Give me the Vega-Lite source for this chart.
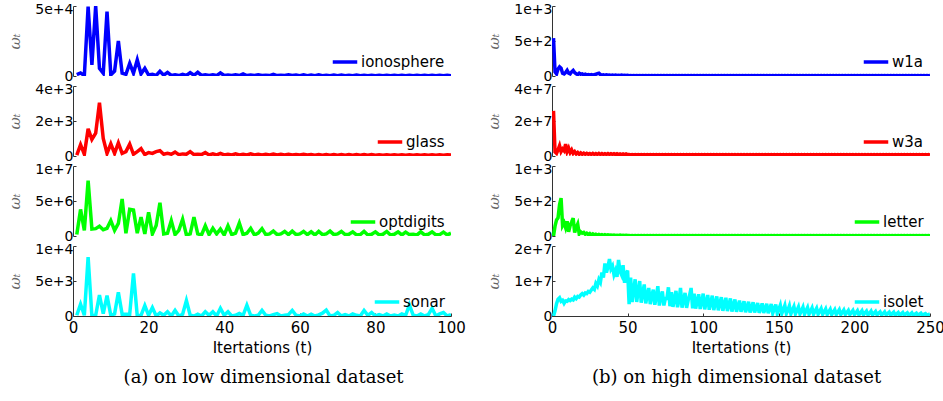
{
"$schema": "https://vega.github.io/schema/vega-lite/v6.json",
"padding": {"left": 7, "top": 2, "right": 5, "bottom": 5},
"config": {
  "view": {"stroke": null},
  "axis": {"domainColor": "#333", "tickColor": "#333", "tickSize": -3, "labelFont": "DejaVu Sans", "labelFontSize": 14, "labelColor": "#000", "labelPadding": 3, "labelOverlap": false, "labelFlush": false, "grid": false, "titleFont": "DejaVu Sans", "titleFontWeight": "normal", "titleColor": "#000"},
  "axisY": {"titleFont": "DejaVu Serif", "titleFontStyle": "italic", "titleFontSize": 15, "titleColor": "#666", "titlePadding": 12},
  "axisX": {"titleFontSize": 15, "labelFontSize": 15, "labelPadding": 7, "titlePadding": 5},
  "legend": {"orient": "bottom-right", "offset": 6, "padding": 0, "symbolType": "stroke", "symbolStrokeWidth": 3.5, "symbolSize": 600, "labelFont": "DejaVu Sans", "labelFontSize": 15, "labelColor": "#000", "labelOffset": 2}
},
"datasets": {
"low": [
{"t":1,"ionosphere":1000,"glass":50,"optdigits":200000,"sonar":100},
{"t":2,"ionosphere":2200,"glass":650,"optdigits":3800000,"sonar":1700},
{"t":3,"ionosphere":300,"glass":100,"optdigits":800000,"sonar":100},
{"t":4,"ionosphere":49500,"glass":1550,"optdigits":7900000,"sonar":8400},
{"t":5,"ionosphere":8000,"glass":950,"optdigits":1000000,"sonar":0},
{"t":6,"ionosphere":50000,"glass":1300,"optdigits":1050000,"sonar":100},
{"t":7,"ionosphere":5500,"glass":3050,"optdigits":1400000,"sonar":3000},
{"t":8,"ionosphere":2000,"glass":1000,"optdigits":900000,"sonar":350},
{"t":9,"ionosphere":46000,"glass":150,"optdigits":1100000,"sonar":2900},
{"t":10,"ionosphere":800,"glass":700,"optdigits":2200000,"sonar":100},
{"t":11,"ionosphere":3500,"glass":150,"optdigits":800000,"sonar":300},
{"t":12,"ionosphere":25000,"glass":750,"optdigits":1800000,"sonar":3400},
{"t":13,"ionosphere":2000,"glass":150,"optdigits":5300000,"sonar":250},
{"t":14,"ionosphere":1200,"glass":250,"optdigits":400000,"sonar":250},
{"t":15,"ionosphere":9000,"glass":680,"optdigits":3800000,"sonar":250},
{"t":16,"ionosphere":2000,"glass":100,"optdigits":3700000,"sonar":6100},
{"t":17,"ionosphere":11500,"glass":250,"optdigits":400000,"sonar":0},
{"t":18,"ionosphere":1500,"glass":420,"optdigits":2700000,"sonar":100},
{"t":19,"ionosphere":5500,"glass":80,"optdigits":300000,"sonar":1500},
{"t":20,"ionosphere":700,"glass":200,"optdigits":3400000,"sonar":100},
{"t":21,"ionosphere":1200,"glass":150,"optdigits":300000,"sonar":1200},
{"t":22,"ionosphere":400,"glass":250,"optdigits":1500000,"sonar":0},
{"t":23,"ionosphere":3300,"glass":300,"optdigits":4750000,"sonar":450},
{"t":24,"ionosphere":600,"glass":100,"optdigits":300000,"sonar":100},
{"t":25,"ionosphere":2600,"glass":150,"optdigits":400000,"sonar":600},
{"t":26,"ionosphere":400,"glass":100,"optdigits":2200000,"sonar":0},
{"t":27,"ionosphere":800,"glass":220,"optdigits":200000,"sonar":800},
{"t":28,"ionosphere":300,"glass":80,"optdigits":800000,"sonar":0},
{"t":29,"ionosphere":1200,"glass":120,"optdigits":2400000,"sonar":250},
{"t":30,"ionosphere":400,"glass":100,"optdigits":150000,"sonar":2200},
{"t":31,"ionosphere":2400,"glass":250,"optdigits":300000,"sonar":100},
{"t":32,"ionosphere":500,"glass":80,"optdigits":2700000,"sonar":0},
{"t":33,"ionosphere":2600,"glass":100,"optdigits":300000,"sonar":250},
{"t":34,"ionosphere":400,"glass":80,"optdigits":150000,"sonar":0},
{"t":35,"ionosphere":900,"glass":200,"optdigits":1450000,"sonar":600},
{"t":36,"ionosphere":300,"glass":60,"optdigits":200000,"sonar":100},
{"t":37,"ionosphere":800,"glass":120,"optdigits":1100000,"sonar":600},
{"t":38,"ionosphere":300,"glass":60,"optdigits":300000,"sonar":0},
{"t":39,"ionosphere":2200,"glass":150,"optdigits":1000000,"sonar":1100},
{"t":40,"ionosphere":400,"glass":60,"optdigits":150000,"sonar":100},
{"t":41,"ionosphere":700,"glass":100,"optdigits":1450000,"sonar":600},
{"t":42,"ionosphere":300,"glass":60,"optdigits":200000,"sonar":0},
{"t":43,"ionosphere":900,"glass":120,"optdigits":400000,"sonar":100},
{"t":44,"ionosphere":300,"glass":60,"optdigits":1850000,"sonar":350},
{"t":45,"ionosphere":1500,"glass":100,"optdigits":200000,"sonar":100},
{"t":46,"ionosphere":300,"glass":60,"optdigits":400000,"sonar":1550},
{"t":47,"ionosphere":700,"glass":120,"optdigits":1100000,"sonar":100},
{"t":48,"ionosphere":300,"glass":60,"optdigits":150000,"sonar":0},
{"t":49,"ionosphere":900,"glass":100,"optdigits":400000,"sonar":100},
{"t":50,"ionosphere":300,"glass":60,"optdigits":1050000,"sonar":800},
{"t":51,"ionosphere":600,"glass":100,"optdigits":200000,"sonar":100},
{"t":52,"ionosphere":300,"glass":60,"optdigits":300000,"sonar":0},
{"t":53,"ionosphere":1200,"glass":110,"optdigits":700000,"sonar":200},
{"t":54,"ionosphere":300,"glass":60,"optdigits":200000,"sonar":350},
{"t":55,"ionosphere":600,"glass":100,"optdigits":300000,"sonar":0},
{"t":56,"ionosphere":300,"glass":60,"optdigits":650000,"sonar":100},
{"t":57,"ionosphere":800,"glass":100,"optdigits":200000,"sonar":200},
{"t":58,"ionosphere":300,"glass":60,"optdigits":700000,"sonar":800},
{"t":59,"ionosphere":700,"glass":90,"optdigits":200000,"sonar":100},
{"t":60,"ionosphere":250,"glass":60,"optdigits":300000,"sonar":0},
{"t":61,"ionosphere":800,"glass":100,"optdigits":650000,"sonar":300},
{"t":62,"ionosphere":250,"glass":60,"optdigits":200000,"sonar":0},
{"t":63,"ionosphere":700,"glass":90,"optdigits":600000,"sonar":250},
{"t":64,"ionosphere":250,"glass":50,"optdigits":150000,"sonar":0},
{"t":65,"ionosphere":800,"glass":90,"optdigits":650000,"sonar":150},
{"t":66,"ionosphere":250,"glass":50,"optdigits":200000,"sonar":400},
{"t":67,"ionosphere":600,"glass":90,"optdigits":300000,"sonar":850},
{"t":68,"ionosphere":250,"glass":50,"optdigits":700000,"sonar":0},
{"t":69,"ionosphere":700,"glass":80,"optdigits":200000,"sonar":100},
{"t":70,"ionosphere":250,"glass":50,"optdigits":300000,"sonar":500},
{"t":71,"ionosphere":700,"glass":80,"optdigits":650000,"sonar":0},
{"t":72,"ionosphere":250,"glass":50,"optdigits":200000,"sonar":200},
{"t":73,"ionosphere":600,"glass":80,"optdigits":250000,"sonar":0},
{"t":74,"ionosphere":250,"glass":50,"optdigits":600000,"sonar":300},
{"t":75,"ionosphere":700,"glass":80,"optdigits":150000,"sonar":100},
{"t":76,"ionosphere":250,"glass":50,"optdigits":200000,"sonar":0},
{"t":77,"ionosphere":600,"glass":80,"optdigits":650000,"sonar":800},
{"t":78,"ionosphere":250,"glass":50,"optdigits":150000,"sonar":100},
{"t":79,"ionosphere":600,"glass":80,"optdigits":250000,"sonar":500},
{"t":80,"ionosphere":250,"glass":50,"optdigits":600000,"sonar":0},
{"t":81,"ionosphere":600,"glass":70,"optdigits":150000,"sonar":200},
{"t":82,"ionosphere":200,"glass":50,"optdigits":250000,"sonar":0},
{"t":83,"ionosphere":600,"glass":70,"optdigits":650000,"sonar":300},
{"t":84,"ionosphere":200,"glass":50,"optdigits":150000,"sonar":0},
{"t":85,"ionosphere":600,"glass":70,"optdigits":250000,"sonar":150},
{"t":86,"ionosphere":200,"glass":50,"optdigits":600000,"sonar":0},
{"t":87,"ionosphere":600,"glass":70,"optdigits":150000,"sonar":300},
{"t":88,"ionosphere":200,"glass":50,"optdigits":550000,"sonar":100},
{"t":89,"ionosphere":500,"glass":70,"optdigits":200000,"sonar":1600},
{"t":90,"ionosphere":200,"glass":50,"optdigits":250000,"sonar":100},
{"t":91,"ionosphere":500,"glass":70,"optdigits":150000,"sonar":0},
{"t":92,"ionosphere":200,"glass":50,"optdigits":600000,"sonar":300},
{"t":93,"ionosphere":500,"glass":70,"optdigits":150000,"sonar":0},
{"t":94,"ionosphere":200,"glass":50,"optdigits":250000,"sonar":200},
{"t":95,"ionosphere":500,"glass":70,"optdigits":600000,"sonar":1100},
{"t":96,"ionosphere":200,"glass":50,"optdigits":150000,"sonar":0},
{"t":97,"ionosphere":500,"glass":70,"optdigits":200000,"sonar":300},
{"t":98,"ionosphere":200,"glass":50,"optdigits":550000,"sonar":500},
{"t":99,"ionosphere":500,"glass":70,"optdigits":150000,"sonar":0},
{"t":100,"ionosphere":200,"glass":50,"optdigits":400000,"sonar":200}
],
"high": [
{"t":1,"w1a":540,"w3a":25800000,"letter":0,"isolet":0},
{"t":2,"w1a":60,"w3a":2300000,"letter":140,"isolet":1500000},
{"t":3,"w1a":30,"w3a":1500000,"letter":230,"isolet":3500000},
{"t":4,"w1a":100,"w3a":3500000,"letter":260,"isolet":4800000},
{"t":5,"w1a":130,"w3a":5900000,"letter":450,"isolet":5200000},
{"t":6,"w1a":110,"w3a":2500000,"letter":540,"isolet":4200000},
{"t":7,"w1a":40,"w3a":4000000,"letter":150,"isolet":4500000},
{"t":8,"w1a":30,"w3a":3000000,"letter":190,"isolet":3600000},
{"t":9,"w1a":50,"w3a":6800000,"letter":120,"isolet":4300000},
{"t":10,"w1a":80,"w3a":2500000,"letter":210,"isolet":4200000},
{"t":11,"w1a":40,"w3a":4500000,"letter":60,"isolet":4700000},
{"t":12,"w1a":30,"w3a":2000000,"letter":150,"isolet":4400000},
{"t":13,"w1a":60,"w3a":3500000,"letter":200,"isolet":4800000},
{"t":14,"w1a":80,"w3a":1500000,"letter":255,"isolet":4600000},
{"t":15,"w1a":50,"w3a":2500000,"letter":50,"isolet":5400000},
{"t":16,"w1a":30,"w3a":1200000,"letter":120,"isolet":5000000},
{"t":17,"w1a":20,"w3a":2000000,"letter":170,"isolet":5600000},
{"t":18,"w1a":40,"w3a":1000000,"letter":30,"isolet":5400000},
{"t":19,"w1a":25,"w3a":1800000,"letter":60,"isolet":6000000},
{"t":20,"w1a":30,"w3a":1000000,"letter":40,"isolet":6400000},
{"t":21,"w1a":15,"w3a":1600000,"letter":50,"isolet":6000000},
{"t":22,"w1a":25,"w3a":1000000,"letter":25,"isolet":6600000},
{"t":23,"w1a":15,"w3a":1500000,"letter":40,"isolet":6400000},
{"t":24,"w1a":20,"w3a":1000000,"letter":20,"isolet":7000000},
{"t":25,"w1a":12,"w3a":1400000,"letter":35,"isolet":6800000},
{"t":26,"w1a":20,"w3a":900000,"letter":15,"isolet":7400000},
{"t":27,"w1a":12,"w3a":1500000,"letter":30,"isolet":8000000},
{"t":28,"w1a":20,"w3a":900000,"letter":15,"isolet":7600000},
{"t":29,"w1a":25,"w3a":1400000,"letter":25,"isolet":9300000},
{"t":30,"w1a":35,"w3a":900000,"letter":12,"isolet":8600000},
{"t":31,"w1a":40,"w3a":1500000,"letter":22,"isolet":10400000},
{"t":32,"w1a":20,"w3a":900000,"letter":12,"isolet":9600000},
{"t":33,"w1a":12,"w3a":1400000,"letter":20,"isolet":12400000},
{"t":34,"w1a":18,"w3a":900000,"letter":10,"isolet":11000000},
{"t":35,"w1a":10,"w3a":1300000,"letter":18,"isolet":15000000},
{"t":36,"w1a":16,"w3a":900000,"letter":10,"isolet":12400000},
{"t":37,"w1a":10,"w3a":1400000,"letter":16,"isolet":14000000},
{"t":38,"w1a":15,"w3a":900000,"letter":10,"isolet":16300000},
{"t":39,"w1a":9,"w3a":1300000,"letter":15,"isolet":13500000},
{"t":40,"w1a":14,"w3a":900000,"letter":8,"isolet":14300000},
{"t":41,"w1a":9,"w3a":1300000,"letter":14,"isolet":11800000},
{"t":42,"w1a":13,"w3a":800000,"letter":8,"isolet":13000000},
{"t":43,"w1a":8,"w3a":1300000,"letter":12,"isolet":11200000},
{"t":44,"w1a":12,"w3a":800000,"letter":8,"isolet":16000000},
{"t":45,"w1a":8,"w3a":1200000,"letter":12,"isolet":12800000},
{"t":46,"w1a":12,"w3a":800000,"letter":7,"isolet":11800000},
{"t":47,"w1a":7,"w3a":1200000,"letter":10,"isolet":14500000},
{"t":48,"w1a":11,"w3a":800000,"letter":7,"isolet":9500000},
{"t":49,"w1a":7,"w3a":1200000,"letter":10,"isolet":12000000},
{"t":50,"w1a":10,"w3a":800000,"letter":6,"isolet":13000000},
{"t":51,"w1a":5,"w3a":800000,"letter":6,"isolet":3400000},
{"t":52,"w1a":8,"w3a":600000,"letter":4,"isolet":11000000},
{"t":53,"w1a":5,"w3a":800000,"letter":6,"isolet":4000000},
{"t":54,"w1a":8,"w3a":600000,"letter":4,"isolet":7500000},
{"t":55,"w1a":5,"w3a":800000,"letter":6,"isolet":10500000},
{"t":56,"w1a":8,"w3a":600000,"letter":4,"isolet":4000000},
{"t":57,"w1a":5,"w3a":800000,"letter":6,"isolet":7000000},
{"t":58,"w1a":8,"w3a":600000,"letter":4,"isolet":10000000},
{"t":59,"w1a":5,"w3a":800000,"letter":6,"isolet":3800000},
{"t":60,"w1a":8,"w3a":600000,"letter":4,"isolet":6500000},
{"t":61,"w1a":5,"w3a":800000,"letter":6,"isolet":9000000},
{"t":62,"w1a":8,"w3a":600000,"letter":4,"isolet":3600000},
{"t":63,"w1a":5,"w3a":800000,"letter":6,"isolet":6000000},
{"t":64,"w1a":8,"w3a":600000,"letter":4,"isolet":8000000},
{"t":65,"w1a":5,"w3a":800000,"letter":6,"isolet":3400000},
{"t":66,"w1a":8,"w3a":600000,"letter":4,"isolet":5800000},
{"t":67,"w1a":5,"w3a":800000,"letter":6,"isolet":7500000},
{"t":68,"w1a":8,"w3a":600000,"letter":4,"isolet":3200000},
{"t":69,"w1a":5,"w3a":800000,"letter":6,"isolet":5500000},
{"t":70,"w1a":8,"w3a":600000,"letter":4,"isolet":8500000},
{"t":71,"w1a":5,"w3a":800000,"letter":6,"isolet":3000000},
{"t":72,"w1a":8,"w3a":600000,"letter":4,"isolet":5500000},
{"t":73,"w1a":5,"w3a":800000,"letter":6,"isolet":7000000},
{"t":74,"w1a":8,"w3a":600000,"letter":4,"isolet":3000000},
{"t":75,"w1a":5,"w3a":800000,"letter":6,"isolet":5000000},
{"t":76,"w1a":8,"w3a":600000,"letter":4,"isolet":5000000},
{"t":77,"w1a":5,"w3a":800000,"letter":6,"isolet":8200000},
{"t":78,"w1a":8,"w3a":600000,"letter":4,"isolet":2800000},
{"t":79,"w1a":5,"w3a":800000,"letter":6,"isolet":6800000},
{"t":80,"w1a":8,"w3a":600000,"letter":4,"isolet":2600000},
{"t":81,"w1a":5,"w3a":800000,"letter":6,"isolet":4800000},
{"t":82,"w1a":8,"w3a":600000,"letter":4,"isolet":7200000},
{"t":83,"w1a":5,"w3a":800000,"letter":6,"isolet":2500000},
{"t":84,"w1a":8,"w3a":600000,"letter":4,"isolet":4500000},
{"t":85,"w1a":5,"w3a":800000,"letter":6,"isolet":8000000},
{"t":86,"w1a":8,"w3a":600000,"letter":4,"isolet":2400000},
{"t":87,"w1a":5,"w3a":800000,"letter":6,"isolet":4600000},
{"t":88,"w1a":8,"w3a":600000,"letter":4,"isolet":6600000},
{"t":89,"w1a":5,"w3a":800000,"letter":6,"isolet":2300000},
{"t":90,"w1a":8,"w3a":600000,"letter":4,"isolet":4400000},
{"t":91,"w1a":5,"w3a":800000,"letter":6,"isolet":6000000},
{"t":92,"w1a":8,"w3a":600000,"letter":4,"isolet":8000000},
{"t":93,"w1a":5,"w3a":800000,"letter":6,"isolet":2200000},
{"t":94,"w1a":8,"w3a":600000,"letter":4,"isolet":6400000},
{"t":95,"w1a":5,"w3a":800000,"letter":6,"isolet":2100000},
{"t":96,"w1a":8,"w3a":600000,"letter":4,"isolet":4200000},
{"t":97,"w1a":5,"w3a":800000,"letter":6,"isolet":6200000},
{"t":98,"w1a":8,"w3a":600000,"letter":4,"isolet":2000000},
{"t":99,"w1a":5,"w3a":800000,"letter":6,"isolet":4000000},
{"t":100,"w1a":8,"w3a":600000,"letter":4,"isolet":6400000},
{"t":101,"w1a":4,"w3a":800000,"letter":6,"isolet":1900000},
{"t":102,"w1a":6,"w3a":600000,"letter":4,"isolet":4000000},
{"t":103,"w1a":4,"w3a":800000,"letter":6,"isolet":6000000},
{"t":104,"w1a":6,"w3a":600000,"letter":4,"isolet":1800000},
{"t":105,"w1a":4,"w3a":800000,"letter":6,"isolet":3800000},
{"t":106,"w1a":6,"w3a":600000,"letter":4,"isolet":5800000},
{"t":107,"w1a":4,"w3a":800000,"letter":6,"isolet":1700000},
{"t":108,"w1a":6,"w3a":600000,"letter":4,"isolet":3600000},
{"t":109,"w1a":4,"w3a":800000,"letter":6,"isolet":5600000},
{"t":110,"w1a":6,"w3a":600000,"letter":4,"isolet":1600000},
{"t":111,"w1a":4,"w3a":800000,"letter":6,"isolet":3500000},
{"t":112,"w1a":6,"w3a":600000,"letter":4,"isolet":5400000},
{"t":113,"w1a":4,"w3a":800000,"letter":6,"isolet":1500000},
{"t":114,"w1a":6,"w3a":600000,"letter":4,"isolet":3300000},
{"t":115,"w1a":4,"w3a":800000,"letter":6,"isolet":5200000},
{"t":116,"w1a":6,"w3a":600000,"letter":4,"isolet":1400000},
{"t":117,"w1a":4,"w3a":800000,"letter":6,"isolet":3200000},
{"t":118,"w1a":6,"w3a":600000,"letter":4,"isolet":5000000},
{"t":119,"w1a":4,"w3a":800000,"letter":6,"isolet":1300000},
{"t":120,"w1a":6,"w3a":600000,"letter":4,"isolet":3000000},
{"t":121,"w1a":4,"w3a":800000,"letter":6,"isolet":4700000},
{"t":122,"w1a":6,"w3a":600000,"letter":4,"isolet":1200000},
{"t":123,"w1a":4,"w3a":800000,"letter":6,"isolet":2800000},
{"t":124,"w1a":6,"w3a":600000,"letter":4,"isolet":4400000},
{"t":125,"w1a":4,"w3a":800000,"letter":6,"isolet":1200000},
{"t":126,"w1a":6,"w3a":600000,"letter":4,"isolet":2700000},
{"t":127,"w1a":4,"w3a":800000,"letter":6,"isolet":4200000},
{"t":128,"w1a":6,"w3a":600000,"letter":4,"isolet":1100000},
{"t":129,"w1a":4,"w3a":800000,"letter":6,"isolet":2500000},
{"t":130,"w1a":6,"w3a":600000,"letter":4,"isolet":4100000},
{"t":131,"w1a":4,"w3a":800000,"letter":6,"isolet":1000000},
{"t":132,"w1a":6,"w3a":600000,"letter":4,"isolet":2400000},
{"t":133,"w1a":4,"w3a":800000,"letter":6,"isolet":3900000},
{"t":134,"w1a":6,"w3a":600000,"letter":4,"isolet":1000000},
{"t":135,"w1a":4,"w3a":800000,"letter":6,"isolet":2300000},
{"t":136,"w1a":6,"w3a":600000,"letter":4,"isolet":3700000},
{"t":137,"w1a":4,"w3a":800000,"letter":6,"isolet":900000},
{"t":138,"w1a":6,"w3a":600000,"letter":4,"isolet":2200000},
{"t":139,"w1a":4,"w3a":800000,"letter":6,"isolet":3600000},
{"t":140,"w1a":6,"w3a":600000,"letter":4,"isolet":900000},
{"t":141,"w1a":4,"w3a":800000,"letter":6,"isolet":2100000},
{"t":142,"w1a":6,"w3a":600000,"letter":4,"isolet":3500000},
{"t":143,"w1a":4,"w3a":800000,"letter":6,"isolet":800000},
{"t":144,"w1a":6,"w3a":600000,"letter":4,"isolet":2000000},
{"t":145,"w1a":4,"w3a":800000,"letter":6,"isolet":3400000},
{"t":146,"w1a":6,"w3a":600000,"letter":4,"isolet":800000},
{"t":147,"w1a":4,"w3a":800000,"letter":6,"isolet":2000000},
{"t":148,"w1a":6,"w3a":600000,"letter":4,"isolet":3300000},
{"t":149,"w1a":4,"w3a":800000,"letter":6,"isolet":700000},
{"t":150,"w1a":6,"w3a":600000,"letter":4,"isolet":1900000},
{"t":151,"w1a":4,"w3a":800000,"letter":6,"isolet":3100000},
{"t":152,"w1a":6,"w3a":600000,"letter":4,"isolet":700000},
{"t":153,"w1a":4,"w3a":800000,"letter":6,"isolet":1800000},
{"t":154,"w1a":6,"w3a":600000,"letter":4,"isolet":3000000},
{"t":155,"w1a":4,"w3a":800000,"letter":6,"isolet":700000},
{"t":156,"w1a":6,"w3a":600000,"letter":4,"isolet":1700000},
{"t":157,"w1a":4,"w3a":800000,"letter":6,"isolet":2900000},
{"t":158,"w1a":6,"w3a":600000,"letter":4,"isolet":600000},
{"t":159,"w1a":4,"w3a":800000,"letter":6,"isolet":1700000},
{"t":160,"w1a":6,"w3a":600000,"letter":4,"isolet":2700000},
{"t":161,"w1a":4,"w3a":800000,"letter":6,"isolet":600000},
{"t":162,"w1a":6,"w3a":600000,"letter":4,"isolet":1600000},
{"t":163,"w1a":4,"w3a":800000,"letter":6,"isolet":2600000},
{"t":164,"w1a":6,"w3a":600000,"letter":4,"isolet":600000},
{"t":165,"w1a":4,"w3a":800000,"letter":6,"isolet":1500000},
{"t":166,"w1a":6,"w3a":600000,"letter":4,"isolet":2500000},
{"t":167,"w1a":4,"w3a":800000,"letter":6,"isolet":500000},
{"t":168,"w1a":6,"w3a":600000,"letter":4,"isolet":1500000},
{"t":169,"w1a":4,"w3a":800000,"letter":6,"isolet":2400000},
{"t":170,"w1a":6,"w3a":600000,"letter":4,"isolet":500000},
{"t":171,"w1a":4,"w3a":800000,"letter":6,"isolet":1400000},
{"t":172,"w1a":6,"w3a":600000,"letter":4,"isolet":2300000},
{"t":173,"w1a":4,"w3a":800000,"letter":6,"isolet":500000},
{"t":174,"w1a":6,"w3a":600000,"letter":4,"isolet":1400000},
{"t":175,"w1a":4,"w3a":800000,"letter":6,"isolet":2200000},
{"t":176,"w1a":6,"w3a":600000,"letter":4,"isolet":500000},
{"t":177,"w1a":4,"w3a":800000,"letter":6,"isolet":1300000},
{"t":178,"w1a":6,"w3a":600000,"letter":4,"isolet":2100000},
{"t":179,"w1a":4,"w3a":800000,"letter":6,"isolet":500000},
{"t":180,"w1a":6,"w3a":600000,"letter":4,"isolet":1200000},
{"t":181,"w1a":4,"w3a":800000,"letter":6,"isolet":2000000},
{"t":182,"w1a":6,"w3a":600000,"letter":4,"isolet":400000},
{"t":183,"w1a":4,"w3a":800000,"letter":6,"isolet":1200000},
{"t":184,"w1a":6,"w3a":600000,"letter":4,"isolet":1900000},
{"t":185,"w1a":4,"w3a":800000,"letter":6,"isolet":400000},
{"t":186,"w1a":6,"w3a":600000,"letter":4,"isolet":1100000},
{"t":187,"w1a":4,"w3a":800000,"letter":6,"isolet":1800000},
{"t":188,"w1a":6,"w3a":600000,"letter":4,"isolet":400000},
{"t":189,"w1a":4,"w3a":800000,"letter":6,"isolet":1100000},
{"t":190,"w1a":6,"w3a":600000,"letter":4,"isolet":1800000},
{"t":191,"w1a":4,"w3a":800000,"letter":6,"isolet":400000},
{"t":192,"w1a":6,"w3a":600000,"letter":4,"isolet":1000000},
{"t":193,"w1a":4,"w3a":800000,"letter":6,"isolet":1700000},
{"t":194,"w1a":6,"w3a":600000,"letter":4,"isolet":400000},
{"t":195,"w1a":4,"w3a":800000,"letter":6,"isolet":1000000},
{"t":196,"w1a":6,"w3a":600000,"letter":4,"isolet":1600000},
{"t":197,"w1a":4,"w3a":800000,"letter":6,"isolet":400000},
{"t":198,"w1a":6,"w3a":600000,"letter":4,"isolet":1000000},
{"t":199,"w1a":4,"w3a":800000,"letter":6,"isolet":1600000},
{"t":200,"w1a":6,"w3a":600000,"letter":4,"isolet":400000},
{"t":201,"w1a":4,"w3a":800000,"letter":6,"isolet":900000},
{"t":202,"w1a":6,"w3a":600000,"letter":4,"isolet":1500000},
{"t":203,"w1a":4,"w3a":800000,"letter":6,"isolet":300000},
{"t":204,"w1a":6,"w3a":600000,"letter":4,"isolet":900000},
{"t":205,"w1a":4,"w3a":800000,"letter":6,"isolet":1500000},
{"t":206,"w1a":6,"w3a":600000,"letter":4,"isolet":300000},
{"t":207,"w1a":4,"w3a":800000,"letter":6,"isolet":900000},
{"t":208,"w1a":6,"w3a":600000,"letter":4,"isolet":1400000},
{"t":209,"w1a":4,"w3a":800000,"letter":6,"isolet":300000},
{"t":210,"w1a":6,"w3a":600000,"letter":4,"isolet":800000},
{"t":211,"w1a":4,"w3a":800000,"letter":6,"isolet":1400000},
{"t":212,"w1a":6,"w3a":600000,"letter":4,"isolet":300000},
{"t":213,"w1a":4,"w3a":800000,"letter":6,"isolet":800000},
{"t":214,"w1a":6,"w3a":600000,"letter":4,"isolet":1300000},
{"t":215,"w1a":4,"w3a":800000,"letter":6,"isolet":300000},
{"t":216,"w1a":6,"w3a":600000,"letter":4,"isolet":800000},
{"t":217,"w1a":4,"w3a":800000,"letter":6,"isolet":1200000},
{"t":218,"w1a":6,"w3a":600000,"letter":4,"isolet":300000},
{"t":219,"w1a":4,"w3a":800000,"letter":6,"isolet":700000},
{"t":220,"w1a":6,"w3a":600000,"letter":4,"isolet":1200000},
{"t":221,"w1a":4,"w3a":800000,"letter":6,"isolet":300000},
{"t":222,"w1a":6,"w3a":600000,"letter":4,"isolet":700000},
{"t":223,"w1a":4,"w3a":800000,"letter":6,"isolet":1100000},
{"t":224,"w1a":6,"w3a":600000,"letter":4,"isolet":200000},
{"t":225,"w1a":4,"w3a":800000,"letter":6,"isolet":700000},
{"t":226,"w1a":6,"w3a":600000,"letter":4,"isolet":1100000},
{"t":227,"w1a":4,"w3a":800000,"letter":6,"isolet":200000},
{"t":228,"w1a":6,"w3a":600000,"letter":4,"isolet":600000},
{"t":229,"w1a":4,"w3a":800000,"letter":6,"isolet":1000000},
{"t":230,"w1a":6,"w3a":600000,"letter":4,"isolet":200000},
{"t":231,"w1a":4,"w3a":800000,"letter":6,"isolet":600000},
{"t":232,"w1a":6,"w3a":600000,"letter":4,"isolet":1000000},
{"t":233,"w1a":4,"w3a":800000,"letter":6,"isolet":200000},
{"t":234,"w1a":6,"w3a":600000,"letter":4,"isolet":600000},
{"t":235,"w1a":4,"w3a":800000,"letter":6,"isolet":900000},
{"t":236,"w1a":6,"w3a":600000,"letter":4,"isolet":200000},
{"t":237,"w1a":4,"w3a":800000,"letter":6,"isolet":500000},
{"t":238,"w1a":6,"w3a":600000,"letter":4,"isolet":900000},
{"t":239,"w1a":4,"w3a":800000,"letter":6,"isolet":200000},
{"t":240,"w1a":6,"w3a":600000,"letter":4,"isolet":500000},
{"t":241,"w1a":4,"w3a":800000,"letter":6,"isolet":800000},
{"t":242,"w1a":6,"w3a":600000,"letter":4,"isolet":200000},
{"t":243,"w1a":4,"w3a":800000,"letter":6,"isolet":500000},
{"t":244,"w1a":6,"w3a":600000,"letter":4,"isolet":800000},
{"t":245,"w1a":4,"w3a":800000,"letter":6,"isolet":200000},
{"t":246,"w1a":6,"w3a":600000,"letter":4,"isolet":500000},
{"t":247,"w1a":4,"w3a":800000,"letter":6,"isolet":700000},
{"t":248,"w1a":6,"w3a":600000,"letter":4,"isolet":200000},
{"t":249,"w1a":4,"w3a":800000,"letter":6,"isolet":400000},
{"t":250,"w1a":6,"w3a":600000,"letter":4,"isolet":600000}
]
},
"spacing": 20,
"resolve": {"scale": {"color": "independent"}, "legend": {"color": "independent"}},
"hconcat": [
{
  "spacing": 10,
  "bounds": "flush",
  "title": {"text": "(a) on low dimensional dataset", "orient": "bottom", "anchor": "middle", "font": "DejaVu Serif", "fontSize": 18, "fontWeight": "normal", "color": "#000", "offset": 14, "dx": 27},
  "resolve": {"scale": {"color": "independent"}, "legend": {"color": "independent"}},
  "vconcat": [
    {"width": 378, "height": 70, "data": {"name": "low"}, "mark": {"type": "line", "strokeWidth": 3.5, "clip": true},
     "encoding": {
       "x": {"field": "t", "type": "quantitative", "scale": {"domain": [0, 100], "nice": false}, "axis": null},
       "y": {"field": "ionosphere", "type": "quantitative", "scale": {"domain": [0, 50000], "nice": false}, "axis": {"values": [0, 50000], "title": "ωₜ", "labelExpr": "datum.value == 0 ? '0' : format(datum.value, '.0e') + '\u00a0\u00a0\u2009'", "labelOffset": {"condition": {"test": "datum.index == 1", "value": 3}, "value": 0}}},
       "color": {"datum": "ionosphere", "scale": {"range": ["#0000ff"]}, "legend": {"title": null}}
     }},
    {"width": 378, "height": 70, "data": {"name": "low"}, "mark": {"type": "line", "strokeWidth": 3.5, "clip": true},
     "encoding": {
       "x": {"field": "t", "type": "quantitative", "scale": {"domain": [0, 100], "nice": false}, "axis": null},
       "y": {"field": "glass", "type": "quantitative", "scale": {"domain": [0, 4000], "nice": false}, "axis": {"values": [0, 2000, 4000], "title": "ωₜ", "labelExpr": "datum.value == 0 ? '0' : format(datum.value, '.0e') + '\u00a0\u00a0\u2009'", "labelOffset": {"condition": {"test": "datum.index == 1", "value": 3}, "value": 0}}},
       "color": {"datum": "glass", "scale": {"range": ["#ff0000"]}, "legend": {"title": null}}
     }},
    {"width": 378, "height": 70, "data": {"name": "low"}, "mark": {"type": "line", "strokeWidth": 3.5, "clip": true},
     "encoding": {
       "x": {"field": "t", "type": "quantitative", "scale": {"domain": [0, 100], "nice": false}, "axis": null},
       "y": {"field": "optdigits", "type": "quantitative", "scale": {"domain": [0, 10000000], "nice": false}, "axis": {"values": [0, 5000000, 10000000], "title": "ωₜ", "labelExpr": "datum.value == 0 ? '0' : format(datum.value, '.0e') + '\u00a0\u00a0\u2009'", "labelOffset": {"condition": {"test": "datum.index == 1", "value": 3}, "value": 0}}},
       "color": {"datum": "optdigits", "scale": {"range": ["#00ff00"]}, "legend": {"title": null}}
     }},
    {"width": 378, "height": 70, "data": {"name": "low"}, "mark": {"type": "line", "strokeWidth": 3.5, "clip": true},
     "encoding": {
       "x": {"field": "t", "type": "quantitative", "scale": {"domain": [0, 100], "nice": false}, "axis": {"values": [0, 20, 40, 60, 80, 100], "title": "Itertations (t)"}},
       "y": {"field": "sonar", "type": "quantitative", "scale": {"domain": [0, 10000], "nice": false}, "axis": {"values": [0, 5000, 10000], "title": "ωₜ", "labelExpr": "datum.value == 0 ? '0' : format(datum.value, '.0e') + '\u00a0\u00a0\u2009'", "labelOffset": {"condition": {"test": "datum.index == 1", "value": 3}, "value": 0}}},
       "color": {"datum": "sonar", "scale": {"range": ["#00ffff"]}, "legend": {"title": null}}
     }}
  ]
},
{
  "spacing": 10,
  "bounds": "flush",
  "title": {"text": "(b) on high dimensional dataset", "orient": "bottom", "anchor": "middle", "font": "DejaVu Serif", "fontSize": 18, "fontWeight": "normal", "color": "#000", "offset": 14, "dx": 21},
  "resolve": {"scale": {"color": "independent"}, "legend": {"color": "independent"}},
  "vconcat": [
    {"width": 378, "height": 70, "data": {"name": "high"}, "mark": {"type": "line", "strokeWidth": 3.5, "clip": true},
     "encoding": {
       "x": {"field": "t", "type": "quantitative", "scale": {"domain": [0, 250], "nice": false}, "axis": null},
       "y": {"field": "w1a", "type": "quantitative", "scale": {"domain": [0, 1000], "nice": false}, "axis": {"values": [0, 500, 1000], "title": "ωₜ", "labelExpr": "datum.value == 0 ? '0' : format(datum.value, '.0e') + '\u00a0\u00a0\u2009'", "labelOffset": {"condition": {"test": "datum.index == 1", "value": 3}, "value": 0}}},
       "color": {"datum": "w1a", "scale": {"range": ["#0000ff"]}, "legend": {"title": null}}
     }},
    {"width": 378, "height": 70, "data": {"name": "high"}, "mark": {"type": "line", "strokeWidth": 3.5, "clip": true},
     "encoding": {
       "x": {"field": "t", "type": "quantitative", "scale": {"domain": [0, 250], "nice": false}, "axis": null},
       "y": {"field": "w3a", "type": "quantitative", "scale": {"domain": [0, 40000000], "nice": false}, "axis": {"values": [0, 20000000, 40000000], "title": "ωₜ", "labelExpr": "datum.value == 0 ? '0' : format(datum.value, '.0e') + '\u00a0\u00a0\u2009'", "labelOffset": {"condition": {"test": "datum.index == 1", "value": 3}, "value": 0}}},
       "color": {"datum": "w3a", "scale": {"range": ["#ff0000"]}, "legend": {"title": null}}
     }},
    {"width": 378, "height": 70, "data": {"name": "high"}, "mark": {"type": "line", "strokeWidth": 3.5, "clip": true},
     "encoding": {
       "x": {"field": "t", "type": "quantitative", "scale": {"domain": [0, 250], "nice": false}, "axis": null},
       "y": {"field": "letter", "type": "quantitative", "scale": {"domain": [0, 1000], "nice": false}, "axis": {"values": [0, 500, 1000], "title": "ωₜ", "labelExpr": "datum.value == 0 ? '0' : format(datum.value, '.0e') + '\u00a0\u00a0\u2009'", "labelOffset": {"condition": {"test": "datum.index == 1", "value": 3}, "value": 0}}},
       "color": {"datum": "letter", "scale": {"range": ["#00ff00"]}, "legend": {"title": null}}
     }},
    {"width": 378, "height": 70, "data": {"name": "high"}, "mark": {"type": "line", "strokeWidth": 3.5, "clip": true},
     "encoding": {
       "x": {"field": "t", "type": "quantitative", "scale": {"domain": [0, 250], "nice": false}, "axis": {"values": [0, 50, 100, 150, 200, 250], "title": "Itertations (t)"}},
       "y": {"field": "isolet", "type": "quantitative", "scale": {"domain": [0, 20000000], "nice": false}, "axis": {"values": [0, 10000000, 20000000], "title": "ωₜ", "labelExpr": "datum.value == 0 ? '0' : format(datum.value, '.0e') + '\u00a0\u00a0\u2009'", "labelOffset": {"condition": {"test": "datum.index == 1", "value": 3}, "value": 0}}},
       "color": {"datum": "isolet", "scale": {"range": ["#00ffff"]}, "legend": {"title": null}}
     }}
  ]
}
]
}
